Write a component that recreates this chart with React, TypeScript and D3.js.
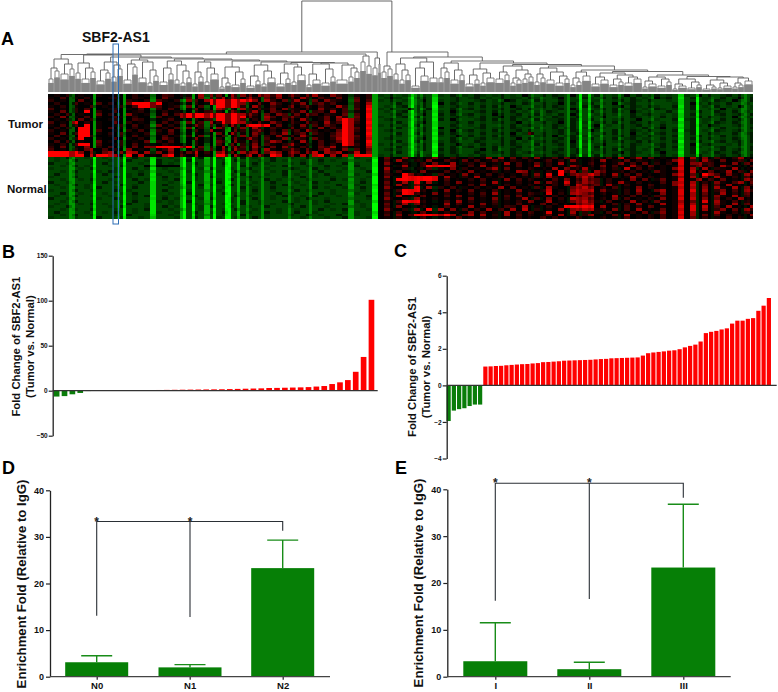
import * as d3 from "d3";
import { useEffect, useRef } from "react";

const FONT = "'Liberation Sans', Arial, sans-serif";

// fold change per sample, panel B and C
const foldB = [-6.5, -6, -4, -2.5, -0.4, 0.15, 0.2, 0.3, 0.3, 0.4, 0.5, 0.6, 0.7, 0.8, 0.9, 1, 1.1, 1.2, 1.3, 1.4, 1.5, 1.6, 1.8, 2, 2.2, 2.4, 2.6, 3, 3.1, 3.3, 3.5, 3.7, 4, 4.6, 5.2, 7.4, 9.3, 11.8, 21, 37.5, 101];
const foldC = [-1.95, -1.38, -1.3, -1.25, -1.13, -1.05, -1.05, 1.03, 1.04, 1.06, 1.07, 1.1, 1.12, 1.14, 1.16, 1.17, 1.2, 1.22, 1.27, 1.28, 1.3, 1.32, 1.35, 1.36, 1.37, 1.38, 1.39, 1.4, 1.42, 1.44, 1.45, 1.48, 1.49, 1.5, 1.51, 1.52, 1.53, 1.63, 1.76, 1.8, 1.83, 1.86, 1.9, 1.92, 1.98, 2.08, 2.16, 2.23, 2.4, 2.86, 2.93, 2.98, 3.06, 3.12, 3.38, 3.54, 3.54, 3.64, 3.68, 4.08, 4.36, 4.78];

// enrichment, panel D and E
const groupsD = ["N0", "N1", "N2"];
const meanD = [3.1, 2.0, 23.3];
const upperD = [4.5, 2.6, 29.3];
const groupsE = ["I", "II", "III"];
const meanE = [3.3, 1.6, 23.3];
const upperE = [11.5, 3.1, 36.8];
// bracket: height of the bar, then lower ends for group 1, 2, 3
const bracketD = [33.3, 13.1, 12.8, 31.3];
const bracketE = [41.3, 16.2, 16.6, 38.2];

// heatmap: [first column, last column, level], 235 columns
const stripes: [number, number, number][] = [
  [7, 8, -0.6], [15, 15, -1], [23, 23, -0.5], [25, 25, -1], [34, 35, -0.9], [44, 44, -0.65], [45, 45, -1], [48, 48, -1], [52, 53, -0.7], [55, 55, -1], [59, 60, -1], [63, 63, -0.7], [66, 66, -0.55], [71, 71, -0.55], [80, 80, -0.5], [87, 87, -0.5], [100, 101, -0.6], [108, 109, -1],
  [115, 115, -0.5], [120, 120, -0.55], [121, 121, -0.95], [122, 122, -0.5], [124, 124, -0.55], [128, 129, -1], [137, 137, -0.42], [150, 150, -0.42], [161, 161, -0.5], [164, 164, -0.42], [173, 173, -0.5], [177, 177, -0.9], [180, 180, -0.8], [184, 184, -0.55], [190, 190, -0.5], [201, 201, -0.45], [210, 211, -0.95], [216, 216, -0.95], [221, 221, -0.45], [231, 232, -0.5],
];

// heatmap: hand read intensity toward red, 6px per digit
const heatRows = [
  "0102010010 0100201203 2051062540 6254065260 5204610520 2102010201 2010310201 0210120103 1020210301 0210103020 1201021030 2012020103",
  "1030102000 1200210104 1043050326 5306204150 3062031040 1302001310 0120200120 1201020110 2100130102 1020210201 0312010201 1020130201",
  "2010040100 0102102031 0205309999 9999506204 2601405210 0403010201 1030210120 0120103201 0210020110 1100120210 2001020101 0210310201",
  "0200301030 2004999990 1030204999 9951040520 3150241300 1206000120 1020130210 2010120102 1020130201 2010301200 1000120310 2102001020",
  "1020100301 0120399930 1204031099 9920620310 5024031062 0208001012 0120010120 1020210310 0120210102 1200130210 2100210201 0201030102",
  "3010203000 1201030120 3010402064 2062031405 2103051203 0309010200 6102100201 2010120120 2010120310 0120201201 0210120200 1030100120",
  "1040209020 0300120302 0140206320 5302610420 3150230603 2108001012 0120210310 0120210201 0102100120 2010210310 1002010120 0210201020",
  "0203010040 2005101204 0399999999 9965204053 1405302104 0309000120 1030120201 2010320120 1201020310 0120100201 2010120210 0120120201",
  "2050103010 0310200130 1099999999 9994106303 5203014062 0409010012 0210210120 1020130210 2010210120 1030010210 1020120120 2010301020",
  "0102040200 1200320401 3040206399 9930205104 3062014059 9308001200 1020120310 0120210201 0201120210 2010120130 0100201201 1020120210",
  "3010802010 0402010203 0204130629 9962040520 3104206139 9209000120 0130200120 2010120130 1020130201 0120210210 2010120201 0210210200",
  "1030309010 0120301040 2010520304 6209999040 2051304209 9108010201 0210200210 1020010201 2010210200 1301020120 1020010210 3100120130",
  "0202099010 3010201302 0304021052 0350620310 4021050319 9309000120 1020130120 0120120210 0100201201 0210020102 0130120200 1020010201",
  "2010099030 0102030120 4010302601 0420350204 1306201049 9208001200 0120210301 2010210120 2010120210 3100210210 2010201201 0210120100",
  "1040399010 2030102010 3020103040 6210520316 0240310259 9109000120 0210120210 1020120301 6020120120 1020210301 0120120200 2100201210",
  "0301099200 1020301203 0102040103 0250402051 3062010359 9308000210 1020210130 2010210210 0120301201 0100120210 2010210120 1020100201",
  "2010290010 0301020104 2010503020 1406203015 0320410269 9207001200 0130100201 0120120130 2010120210 2010201201 1020120210 2010210201",
  "0303010040 1020104020 3010203042 0510302640 2061030149 9109000120 0210210210 0210020201 0120210301 1020120120 2010200120 0120120200",
  "1020399030 0120301502 1040201030 4021503102 6102030209 9208010201 1020120130 1020120210 0210120200 0130010210 0120120301 2001020120",
  "2040105020 3010405999 9999040206 2530620405 2031042603 4106000120 0120010201 2010210120 1020010201 0210120200 1020210210 0120010210",
  "3010204603 0205010302 6010420305 1620406102 5204036205 2304001210 1020120210 0130200210 0120120120 0120201201 0210120200 1020120201",
  "9999950504 6057606450 5064706057 4065604750 6405706460 5705000120 0100210210 0210120201 2010210120 1020130210 0130010201 0210210100",
  "9999990799 7609070606 9070605099 0607060970 5060790607 0999010200 1201020120 1020010210 0120120201 0210210200 1020120120 0120120210",
  "0102001001 0010200100 1001020010 0120100200 1002010010 0100204105 2101610310 2016060403 1501304020 2103070260 4010180605 0310261030",
  "0100200100 1002001020 0102001001 0200010201 0010020100 2001003061 0205203104 0301420210 2013020510 2060104021 0101590306 2040130405",
  "2001000102 0010010020 1000201002 0010201000 1020010002 0100105102 1030610601 2030106030 1402060110 3020150304 0202090562 3010504012",
  "0010201000 1020003333 3300102001 0020100102 0001002010 0200102016 1039999610 3060201030 1602010630 2050310620 4010180251 3062010360",
  "1000010200 0100201001 0020010200 1002001000 2100201001 0010006102 0103010502 0103604010 2010605126 1030207030 2010590606 0210601052",
  "0010200010 2100010200 1001002010 0200100102 0010020010 1002004030 1050203020 5010201065 0102093604 0640120201 0410180720 4016030502",
  "0200100102 0001020010 0100200100 1020001002 0100102000 0100203109 6201030105 0203020103 0508090465 8520603040 1010590409 6305106203",
  "1000200100 0201000102 0010100200 0102010001 0020100100 2001005019 9999906102 0601030201 0306201057 5010301620 2010170605 0610203060",
  "0010010200 1000201001 0200100010 2001002010 1001000201 0010002099 9999903010 2030105030 2010305036 4302010504 0140190160 3040106301",
  "2001000102 0100020100 1002001020 0010100200 0100201000 1020004016 0906102050 1020601020 1505208046 5302061020 1030580602 0510360402",
  "0100201000 0020100102 0010020100 2001000102 0010100020 0100203061 0510202010 3050102010 2010205074 3406102010 3010590704 0306010205",
  "0010001020 0100200100 1020010001 0020100200 1000201001 0020105102 0906020301 0201060401 0306100467 5020301050 2010180605 0610605030",
  "1000200100 0201000102 0001002010 0010200100 0201000100 2010002039 9920105020 4010301050 1027010576 7051102060 0460190806 0250306201",
  "0020010001 0010200100 1002000102 0100100020 1000020100 0100104019 9310602010 2030601020 3108020675 4020102040 1050190604 0160204050",
  "0100200100 1000102001 0010200100 0201000102 0010200010 1002003060 1040203050 1020103040 2010201045 6010610302 0320180603 0510603021",
  "2001000010 0200100102 0100010200 1000200100 0102001000 2001005102 0610301020 4010502016 0305020766 4020503010 2050190705 0402061040",
  "0010200100 0010200010 1002001000 1020010002 0100102000 0100202039 9920103060 2010301020 5016010467 5103010602 0410170408 0610302050",
  "0100010201 0002001000 1000102001 0020010100 2000100102 0010004016 0510206030 1050201030 1040201056 6010302050 1060180602 0510604016",
  "1002000100 1020001002 0100010200 1001002000 1020001000 2010003050 1020103010 6020103206 0102019999 9060103020 4010190807 0306010605",
  "0010100200 0100102000 1020010001 0200100010 0100020102 0001005102 0609060503 0206030607 0201060567 7120503060 1040180806 0250406208",
  "0200001001 0200100010 0100200102 0001002010 0200100001 0100202030 1040102010 5030106020 3018010602 0103010204 0250190601 0610203067",
  "0010200100 0102000100 1000102001 0020001000 1002010020 0100103050 4999969604 6060206030 2013060302 6010406010 2030180604 0302010509",
  "1000100020 0010010200 0100200010 0100201000 0010001002 0001001020 1030102040 1020101020 1030201030 1020103010 2030190402 0103020104",
].map((r) => r.replace(/ /g, ""));

// dendrogram nodes: [distance, leaves] or [distance, left, right, skew]
type Node = [number, any, any?, number?];
const clusterA1: Node = [33, [24, [13, 2], [21, 2]], [28, [18, 3], [23, 2]]];
const leftChainClusters: Node[] = [
  [29, [19, 2], [24, [13, 3], [20, 2]]],
  [30, [22, [11, 3], [19, 2]], [27, [15, 2], [23, 2]]],
  [32, [28, [12, 3], [25, 2]], [30, [14, 3], [22, [9, 2], [16, 2]]]],
  [31, [24, [10, 3], [18, 2]], [27, [12, 2], [21, [9, 2], [14, 2]]]],
  [30, [20, [8, 2], [15, 2]], [24, [10, 2], [18, 3]]],
  [25, [14, [5, 2], [9, 2]], [20, [7, 3], [13, 2]]],
  [27, [16, [6, 3], [11, 2]], [21, [8, 2], [14, 3]]],
  [28, [19, [8, 3], [13, 2]], [25, [10, 2], [17, 3]]],
  [28, [18, [7, 2], [12, 3]], [23, [9, 3], [15, 2]]],
  [27, [12, 4], [24, [15, 2], [20, 2]]],
];
const leftChainHeights = [37, 35, 34, 33, 32, 31, 30, 29.5, 29];
const clusterEndA: Node = [36, [30, 2], [26, 2]];
const clusterEndB: Node = [34, [24, 2], [28, 1]];

const rightFirst: Node = [26, [20, 2], [23, 2]];
const rightChainClusters: Node[] = [
  [34, [28, [18, 2], [22, [12, 2], [17, 2]]], [30, [24, [6, 3], [16, 3]], [14, 3]]],
  [29, [24, [14, 2], [20, 2]], [22, [12, 3], [17, 2]]],
  [23, [17, [8, 3], [12, 2]], [19, [9, 2], [14, 3]]],
  [26, [20, [13, 3], [17, 2]], [22, [14, [9, 2], [12, 2]], [18, [13, 2], [15, 2]]]],
  [24, [18, [10, 2], [14, 2]], [20, [12, 3], [16, [9, 3], [13, 2]]]],
  [20, [14, [7, 2], [10, 2]], [16, 3]],
  [19, [15, [8, 3], [12, 3]], [17, [13, [7, 3], [10, 2]], [15, [9, 3], [13, 3]]]],
  [15, [11, [5, 2], [8, 3]], [13, [6, 3], [10, 2]]],
  [13, [8, [3, 2], [6, 3]], [10, [4, 3], [7, 2]]],
  [12, [7, [3, 3], [5, 2]], [9, [4, 2], [6, 3]]],
  [14, [9, [5, 2], [7, 2]], [11, 3]],
];
const rightChainHeights = [35, 31, 29, 27.5, 26, 22, 20.5, 17, 15.5, 15];

function chain(clusters: Node[], heights: number[]): Node {
  return clusters
    .slice(0, -1)
    .reduceRight((acc: Node, c: Node, i: number) => [heights[i], c, acc] as Node, clusters[clusters.length - 1]);
}

const App = () => {
  const svgRef = useRef<SVGSVGElement | null>(null);

  useEffect(() => {
    const svg = d3.select(svgRef.current);
    svg.selectAll("*").remove();

    const panelLabel = (t: string, x: number, y: number) =>
      svg.append("text").attr("x", x).attr("y", y).attr("font-family", FONT).attr("font-weight", "bold").attr("font-size", 18).text(t);
    const boldText = (t: string, x: number, y: number, size: number) =>
      svg.append("text").attr("x", x).attr("y", y).attr("font-family", FONT).attr("font-weight", "bold").attr("font-size", size).attr("fill", "#111").text(t);
    const yTitle = (t: string, x: number, y: number, size: number) =>
      svg.append("text").attr("transform", `translate(${x},${y}) rotate(-90)`).attr("text-anchor", "middle").attr("font-family", FONT).attr("font-weight", "bold").attr("font-size", size).attr("fill", "#111").text(t);

    panelLabel("A", 1, 45);
    panelLabel("B", 2, 258);
    panelLabel("C", 394, 257);
    panelLabel("D", 2, 474);
    panelLabel("E", 395, 474);
    boldText("SBF2-AS1", 82, 41.5, 14);
    boldText("Tumor", 8, 128, 11.5);
    boldText("Normal", 7, 192.5, 11.5);

    // ---- dendrogram
    const leaf = d3.scaleLinear().domain([0, 235]).range([48, 753]);
    const dist = d3.scaleLinear().domain([0, 91]).range([92, 1]);
    const leftChain = chain(leftChainClusters, leftChainHeights);
    const leftCore: Node = [37.5, clusterA1, leftChain];
    const leftTree: Node = [40, [38, leftCore, clusterEndA], clusterEndB];
    const rightTree: Node = [40, rightFirst, chain(rightChainClusters, rightChainHeights), 0.08];
    const tree = d3.hierarchy<Node>([91, leftTree, rightTree], (d) => (Array.isArray(d[1]) ? [d[1], d[2]] : null));

    let cursor = 0;
    const pos = new Map<any, { x: number; x0: number; n: number }>();
    tree.eachAfter((nd) => {
      if (!nd.children) {
        const n = nd.data[1] as number;
        pos.set(nd, { x: cursor + n / 2, x0: cursor, n });
        cursor += n;
      } else {
        const a = pos.get(nd.children[0])!.x;
        const b = pos.get(nd.children[1])!.x;
        const w = nd.data[3] ?? 0.5;
        pos.set(nd, { x: a + (b - a) * w, x0: 0, n: 0 });
      }
    });

    const footShare = 0.7;
    const dend = svg.append("g");
    const tips = tree.leaves();
    // solid gray foot of each small cluster
    dend
      .selectAll("rect")
      .data(tips)
      .join("rect")
      .attr("x", (l) => leaf(pos.get(l)!.x0) + 0.1)
      .attr("width", (l) => leaf(pos.get(l)!.n) - leaf(0) - 0.2)
      .attr("y", (l) => dist(l.data[0] * footShare))
      .attr("height", (l) => dist(0) - dist(l.data[0] * footShare))
      .attr("fill", "#858585");
    // hollow top of each small cluster
    dend
      .selectAll("path.tip")
      .data(tips)
      .join("path")
      .attr("class", "tip")
      .attr("fill", "none")
      .attr("stroke", "#777")
      .attr("stroke-width", 0.9)
      .attr("d", (l) => {
        const p = pos.get(l)!;
        const a = leaf(p.x0) + 1;
        const b = leaf(p.x0 + p.n) - 1;
        return `M${a},${dist(l.data[0] * footShare)}V${dist(l.data[0])}H${b}V${dist(l.data[0] * footShare)}`;
      });
    dend
      .selectAll("path.merge")
      .data(tree.descendants().filter((nd) => nd.children))
      .join("path")
      .attr("class", "merge")
      .attr("fill", "none")
      .attr("stroke", (nd) => (nd.depth === 0 ? "#555" : "#5e5e5e"))
      .attr("stroke-width", 0.9)
      .attr("d", (nd) => {
        const [a, b] = nd.children!;
        const xa = leaf(pos.get(a)!.x);
        const xb = leaf(pos.get(b)!.x);
        return `M${xa},${dist(a.data[0])}V${dist(nd.data[0])}H${xb}V${dist(b.data[0])}`;
      });

    // ---- heatmap
    const nCols = 235;
    const nRows = heatRows.length;
    const colBand = d3.scaleBand<number>().domain(d3.range(nCols)).range([48, 753]);
    const rowBand = d3.scaleBand<number>().domain(d3.range(nRows)).range([94, 219]);
    const heat = d3.scaleLinear<string>().domain([-1, 0, 1]).range(["#00ff00", "#000000", "#ff0000"]).clamp(true);
    const redness = d3.scalePow().exponent(1.2).domain([0, 9]).range([0, 1]);
    const splitCol = 110;
    const stripeAt = new Map<number, number>();
    stripes.forEach(([a, b, v]) => {
      d3.range(a, b + 1).forEach((c) => stripeAt.set(c, v));
    });
    const cells: { c: number; r: number; v: number }[] = [];
    heatRows.forEach((row, r) => {
      d3.range(nCols).forEach((c) => {
        const t = +(row[c >> 1] ?? 0);
        const tumor = r < 23;
        const left = c < splitCol;
        const st = stripeAt.get(c);
        let base = (st ?? 0) * 0.15;
        if (tumor === !left) base = st ?? -0.27;
        else if (tumor) base = (st ?? 0) * 0.6;
        cells.push({ c, r, v: base + redness(t) });
      });
    });
    svg
      .append("g")
      .attr("shape-rendering", "crispEdges")
      .selectAll("rect")
      .data(cells)
      .join("rect")
      .attr("x", (d) => colBand(d.c)!)
      .attr("y", (d) => rowBand(d.r)!)
      .attr("width", colBand.bandwidth() + 0.2)
      .attr("height", rowBand.bandwidth() + 0.2)
      .attr("fill", (d) => heat(d.v));

    svg.append("rect").attr("x", 113).attr("y", 44).attr("width", 5.5).attr("height", 180).attr("fill", "none").attr("stroke", "#2f6fb5").attr("stroke-width", 1);

    // ---- panels
    const styleAxis = (g: any, size: number) => {
      g.selectAll("text").attr("font-family", FONT).attr("font-weight", "bold").attr("font-size", size).attr("fill", "#111");
      g.selectAll("line").attr("stroke", "#222").attr("stroke-width", 1.2);
      g.select(".domain").attr("stroke", "#222").attr("stroke-width", 1.3);
    };

    const foldPanel = (vals: number[], x0: number, x1: number, axisX: number, lineEnd: number, y: d3.ScaleLinear<number, number>, ticks: number[], size: number, pad: number) => {
      const x = d3.scaleBand<number>().domain(d3.range(vals.length)).range([x0, x1]).paddingInner(pad).paddingOuter(pad / 2);
      svg
        .append("g")
        .selectAll("rect")
        .data(vals)
        .join("rect")
        .attr("x", (_, i) => x(i)!)
        .attr("width", x.bandwidth())
        .attr("y", (d) => Math.min(y(0), y(d)))
        .attr("height", (d) => Math.abs(y(d) - y(0)))
        .attr("fill", (d) => (d > 0 ? "#ff0000" : "#0a7d0a"));
      const g = svg.append("g").attr("transform", `translate(${axisX},0)`).call(d3.axisLeft(y).tickValues(ticks).tickSize(4).tickSizeOuter(0).tickPadding(1));
      styleAxis(g, size);
      svg.append("line").attr("x1", axisX).attr("x2", lineEnd).attr("y1", y(0)).attr("y2", y(0)).attr("stroke", "#333").attr("stroke-width", 1.3);
    };

    foldPanel(foldB, 52.7, 375.4, 52.7, 377.7, d3.scaleLinear().domain([-50, 150]).range([435.7, 255.7]), [-50, 0, 50, 100, 150], 6.5, 0.28);
    yTitle("Fold Change of SBF2-AS1", 19.5, 346.6, 11.3);
    yTitle("(Tumor vs. Normal)", 34, 346.6, 11.3);

    foldPanel(foldC, 446, 771.5, 446.7, 776.7, d3.scaleLinear().domain([-4, 6]).range([458.5, 275.7]), [-4, -2, 0, 2, 4, 6], 6.5, 0.2);
    yTitle("Fold Change of SBF2-AS1", 416, 367, 11.3);
    yTitle("(Tumor vs. Normal)", 430, 367, 11.3);

    const enrichPanel = (groups: string[], means: number[], uppers: number[], bracket: number[], centers: number[], axisX: number, axisEnd: number, top: number, barW: number) => {
      const y = d3.scaleLinear().domain([0, 40]).range([676.7, top]);
      const x = d3.scaleOrdinal<string, number>().domain(groups).range(centers);
      const g = svg.append("g").attr("transform", `translate(${axisX},0)`).call(d3.axisLeft(y).ticks(4).tickSize(4).tickSizeOuter(0).tickPadding(2));
      styleAxis(g, 9);
      const bars = svg.append("g");
      bars
        .selectAll("rect")
        .data(groups)
        .join("rect")
        .attr("x", (d) => x(d) - barW / 2)
        .attr("width", barW)
        .attr("y", (_, i) => y(means[i]))
        .attr("height", (_, i) => y(0) - y(means[i]))
        .attr("fill", "#067f06");
      bars
        .selectAll("path")
        .data(groups)
        .join("path")
        .attr("fill", "none")
        .attr("stroke", "#188c18")
        .attr("stroke-width", 1.4)
        .attr("d", (d, i) => `M${x(d)},${y(means[i])}V${y(uppers[i])}m-15.5,0h31`);
      const xa = d3.axisBottom(d3.scalePoint<string>().domain(groups).range([centers[0], centers[2]])).tickSize(3).tickSizeOuter(0).tickPadding(3);
      const gx = svg.append("g").attr("transform", `translate(0,676.7)`).call(xa);
      styleAxis(gx, 9.5);
      gx.select(".domain").remove();
      svg.append("line").attr("x1", axisX).attr("x2", axisEnd).attr("y1", y(0)).attr("y2", y(0)).attr("stroke", "#444").attr("stroke-width", 1.3);
      const [bar, e0, e1, e2] = bracket;
      svg
        .append("path")
        .attr("fill", "none")
        .attr("stroke", "#2a2f35")
        .attr("stroke-width", 1.1)
        .attr("d", `M${centers[0]},${y(e0)}V${y(bar)}H${centers[2]}V${y(e2)}M${centers[1]},${y(bar)}V${y(e1)}`);
      [centers[0], centers[1]].forEach((cx) => {
        svg.append("text").attr("x", cx).attr("y", y(bar) + 4).attr("text-anchor", "middle").attr("font-family", FONT).attr("font-weight", "bold").attr("font-size", 12).attr("fill", "#222").text("*");
      });
    };

    enrichPanel(groupsD, meanD, upperD, bracketD, [96.7, 190, 282.7], 50, 330, 490.3, 63);
    yTitle("Enrichment Fold (Relative to IgG)", 26, 584, 13.2);
    enrichPanel(groupsE, meanE, upperE, bracketE, [495.3, 589.3, 683.3], 447.3, 730.7, 489.3, 64);
    yTitle("Enrichment Fold (Relative to IgG)", 423, 583, 13.2);
  }, []);

  return <svg ref={svgRef} width={778} height={692} style={{ position: "absolute", left: 0, top: 0, background: "#fff" }} />;
};

export default App;
